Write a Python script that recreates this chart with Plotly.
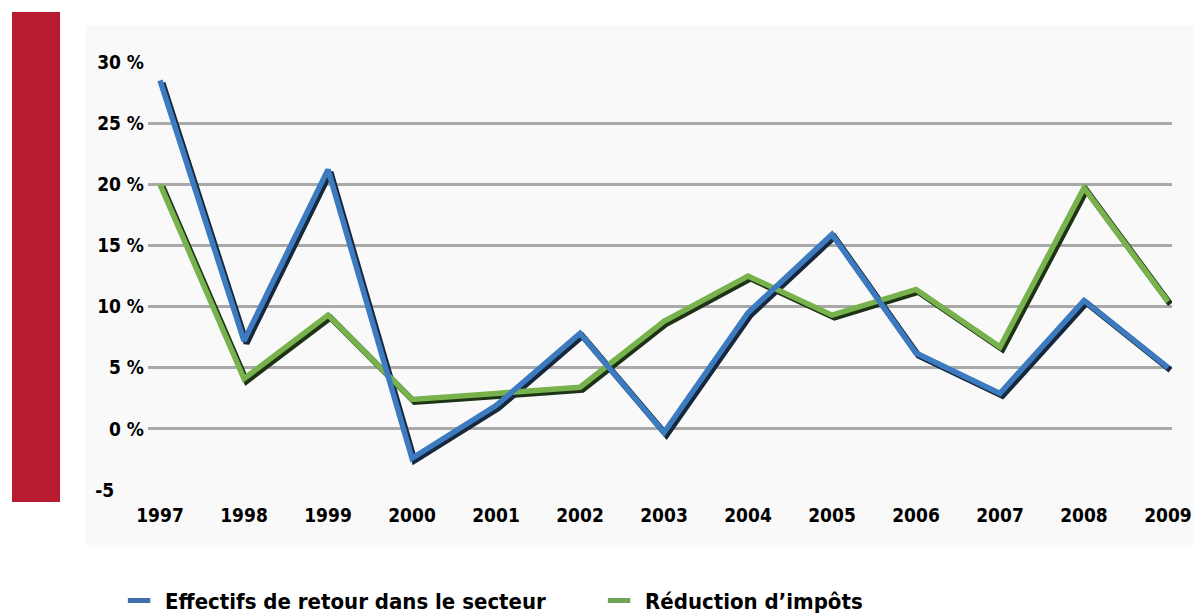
import plotly.graph_objects as go

years = [1997, 1998, 1999, 2000, 2001, 2002, 2003, 2004, 2005, 2006, 2007, 2008, 2009]
effectifs = [28.5, 7.2, 21.2, -2.4, 1.9, 7.8, -0.3, 9.5, 15.9, 6.2, 2.9, 10.5, 5.0]
reduction = [20.0, 4.1, 9.3, 2.4, 2.9, 3.4, 8.8, 12.5, 9.3, 11.4, 6.7, 19.7, 10.4]
y_tickvals = [-5, 0, 5, 10, 15, 20, 25, 30]
y_ticktext = ["-5\u00a0\u00a0\u00a0\u00a0\u00a0", "0 %", "5 %", "10 %", "15 %", "20 %", "25 %", "30 %"]
series_names = ["Effectifs de retour dans le secteur", "Réduction d\u2019impôts"]

BLUE = "#3d7bc0"
GREEN = "#78b24c"
FONT = "DejaVu Sans Condensed, Liberation Sans Narrow, Arial Narrow, sans-serif"

xr = [1996.857, 2009.048]
yr = [-5, 30]
# shadow axes shifted by a few pixels (right and down)
dx = (xr[1] - xr[0]) / 1024 * 2.5
dy = (yr[1] - yr[0]) / 428 * 2.5

fig = go.Figure()

# legend entries (base axes)
fig.add_trace(go.Scatter(x=[None], y=[None], mode="markers", name=series_names[0],
                         marker=dict(symbol="line-ew", size=26, line=dict(color="#3f6ea8", width=6))))
fig.add_trace(go.Scatter(x=[None], y=[None], mode="markers", name=series_names[1],
                         marker=dict(symbol="line-ew", size=26, line=dict(color="#6fa356", width=6))))

# shadows (shifted overlay axes)
fig.add_trace(go.Scatter(x=years, y=reduction, mode="lines", xaxis="x2", yaxis="y2",
                         line=dict(color="#1e3316", width=6), showlegend=False, hoverinfo="skip"))
fig.add_trace(go.Scatter(x=years, y=effectifs, mode="lines", xaxis="x2", yaxis="y2",
                         line=dict(color="#17283d", width=6), showlegend=False, hoverinfo="skip"))

# main lines (true-scale overlay axes, drawn on top)
fig.add_trace(go.Scatter(x=years, y=reduction, mode="lines", name=series_names[1],
                         xaxis="x3", yaxis="y3",
                         line=dict(color=GREEN, width=5.5), showlegend=False))
fig.add_trace(go.Scatter(x=years, y=effectifs, mode="lines", name=series_names[0],
                         xaxis="x3", yaxis="y3",
                         line=dict(color=BLUE, width=5.5), showlegend=False))

tick_font = dict(size=19, family=FONT, weight="bold")

fig.update_layout(
    width=1194, height=606,
    paper_bgcolor="white", plot_bgcolor="rgba(0,0,0,0)",
    margin=dict(l=140, r=30, t=54, b=124, autoexpand=False),
    font=dict(family=FONT, color="black"),
    xaxis=dict(range=xr, tickvals=years, ticktext=[str(y) for y in years],
               showgrid=False, zeroline=False, showline=False, ticks="",
               tickfont=tick_font, ticklabelstandoff=12, automargin=False),
    yaxis=dict(range=yr, tickvals=y_tickvals, ticktext=y_ticktext,
               showgrid=True, gridcolor="#a9a9a9", gridwidth=3, zeroline=False,
               showline=False, ticks="", tickfont=tick_font,
               ticklabelstandoff=3, automargin=False),
    xaxis2=dict(range=[xr[0] - dx, xr[1] - dx], overlaying="x", visible=False),
    yaxis2=dict(range=[yr[0] + dy, yr[1] + dy], overlaying="y", visible=False),
    xaxis3=dict(range=xr, overlaying="x", visible=False),
    yaxis3=dict(range=yr, overlaying="y", visible=False),
    legend=dict(orientation="h", xref="container", x=0.088, xanchor="left",
                yref="container", y=0.022, yanchor="middle",
                font=dict(size=22, family=FONT, weight="bold"),
                itemwidth=42, entrywidth=423, entrywidthmode="pixels",
                bgcolor="rgba(0,0,0,0)"),
    shapes=[
        dict(type="rect", xref="paper", yref="paper", x0=-0.0615, x1=1.035, y0=-0.128, y1=1.086,
             fillcolor="#f9f9f9", line=dict(width=0), layer="below"),
        dict(type="rect", xref="paper", yref="paper", x0=-0.1328, x1=-0.0859, y0=-0.028, y1=1.1168,
             fillcolor="#b81a2f", line=dict(width=0), layer="below"),
    ],
    showlegend=True,
)

fig.write_html("out.html")
